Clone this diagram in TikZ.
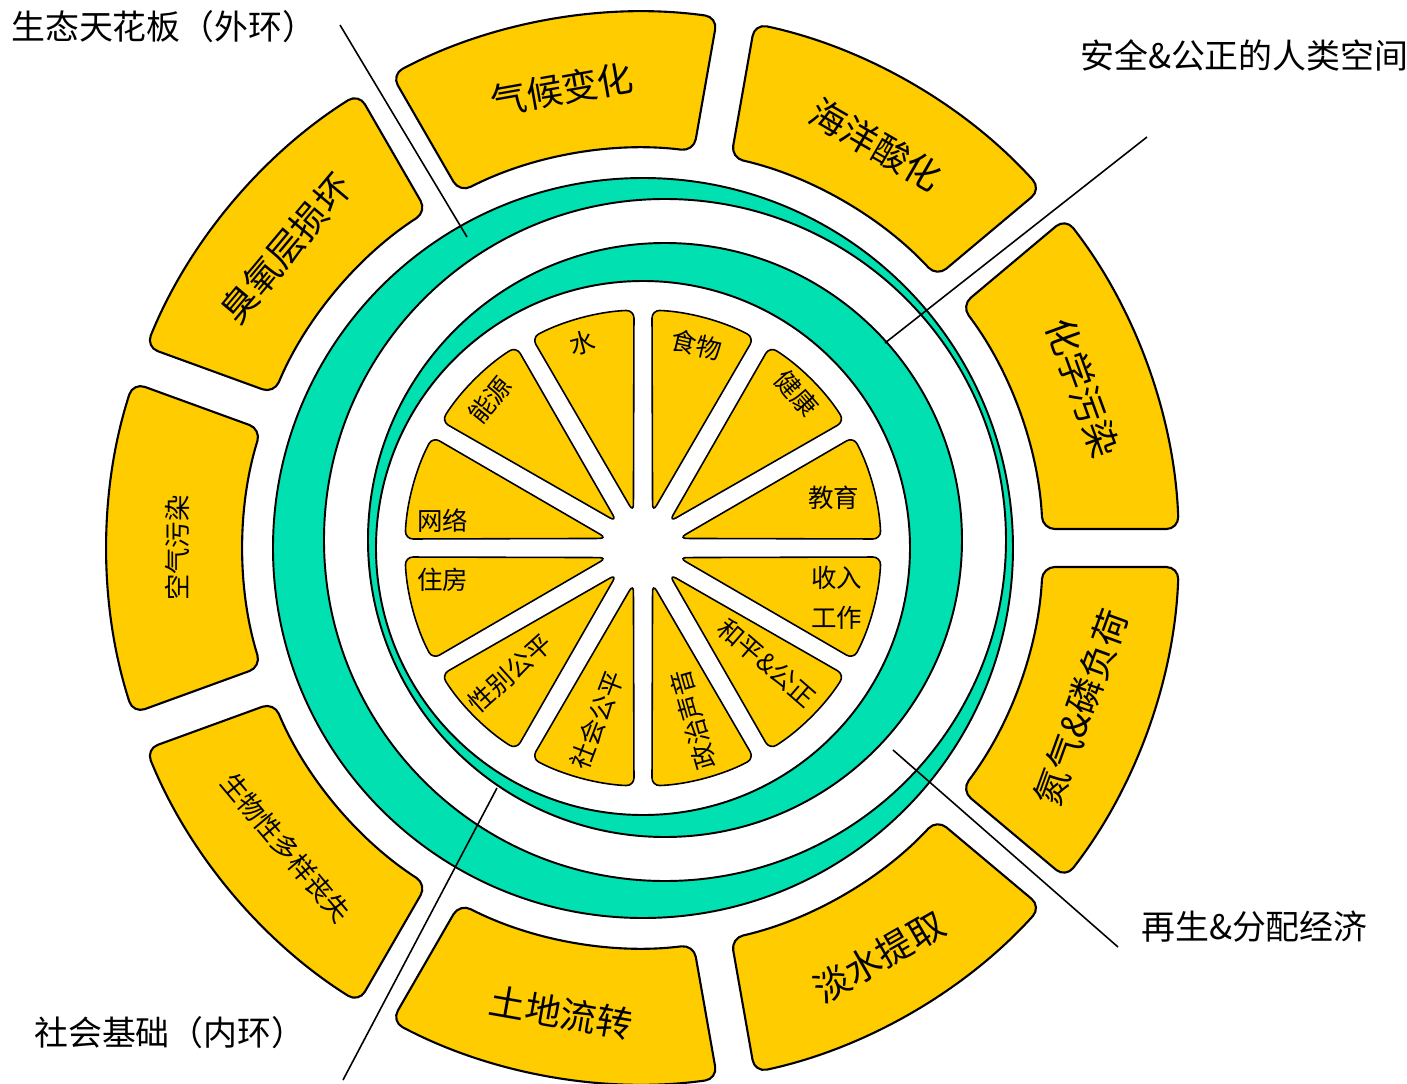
\documentclass[tikz,border=0pt]{standalone}
\usepackage{fontspec}
\setmainfont{Noto Sans CJK SC}
\definecolor{segyellow}{RGB}{255,204,0}
\definecolor{bandgreen}{RGB}{0,224,176}

% outer segment, #1 = middle angle (40 degrees wide)
\newcommand{\outerseg}[1]{%
  \pgfmathsetmacro\gi{asin(19/400)}%
  \pgfmathsetmacro\go{asin(19/536)}%
  \draw[seg] (#1-20+\go:536) arc[start angle=#1-20+\go, end angle=#1+20-\go, radius=536]
    -- (#1+20-\gi:400) arc[start angle=#1+20-\gi, end angle=#1-20+\gi, radius=400] -- cycle;}
% inner wedge, #1 = middle angle (30 degrees wide)
\newcommand{\innerwedge}[1]{%
  \pgfmathsetmacro\gw{asin(9/238)}%
  \draw[wedge] (#1:37) -- (#1-15+\gw:238) arc[start angle=#1-15+\gw, end angle=#1+15-\gw, radius=238] -- cycle;}

\begin{document}
\begin{tikzpicture}[x=0.02cm,y=0.02cm,
  seg/.style={draw,line width=1.2pt,fill=segyellow,rounded corners=7pt},
  wedge/.style={draw,line width=0.9pt,fill=segyellow,rounded corners=4.5pt},
  band/.style={draw,line width=1.1pt,fill=bandgreen,even odd rule},
  leader/.style={line width=0.9pt},
  biglabel/.style={font=\fontsize{20.5}{20.5}\selectfont},
  midlabel/.style={font=\fontsize{15}{15}\selectfont},
  smalllabel/.style={font=\fontsize{14.5}{14.5}\selectfont},
  cornerlabel/.style={font=\fontsize{19.3}{19.3}\selectfont,anchor=west}]
\useasboundingbox (-643,-535) rectangle (764,548);
% outer ring: planetary boundaries
\outerseg{100}
\outerseg{60}
\outerseg{20}
\outerseg{-20}
\outerseg{-60}
\outerseg{-100}
\outerseg{-140}
\outerseg{180}
\outerseg{140}
% green bands (two eccentric circles each)
\draw[band] (0,0) circle[radius=370] (22,8) circle[radius=341];
\draw[band] (22,8) circle[radius=297] (0,0) circle[radius=267];
% inner wedges: social foundation
\innerwedge{105}
\innerwedge{135}
\innerwedge{165}
\innerwedge{195}
\innerwedge{225}
\innerwedge{255}
\innerwedge{285}
\innerwedge{315}
\innerwedge{345}
\innerwedge{15}
\innerwedge{45}
\innerwedge{75}
% leader lines
\coordinate (ceilA) at (-303,523);
\coordinate (ceilB) at (-176,311);
\coordinate (safeA) at (504,411);
\coordinate (safeB) at (242,205);
\coordinate (econA) at (250,-202);
\coordinate (econB) at (475,-399);
\coordinate (baseA) at (-146,-240);
\coordinate (baseB) at (-300,-532);
\draw[leader] (ceilA) -- (ceilB);
\draw[leader] (safeA) -- (safeB);
\draw[leader] (econA) -- (econB);
\draw[leader] (baseA) -- (baseB);
% outer labels
\node[biglabel,rotate=10] (climate) at (100:466) {气候变化};
\node[biglabel,rotate=-30] (ocean) at (60:466) {海洋酸化};
\node[biglabel,rotate=-70] (chem) at (20:468) {化学污染};
\node[biglabel,rotate=70] (nitro) at (-20:466) {氮气\&磷负荷};
\node[biglabel,rotate=30] (fresh) at (-60:472) {淡水提取};
\node[biglabel,rotate=-10] (land) at (-100:472) {土地流转};
\node[midlabel,rotate=-50] (bio) at (-140:466) {生物性多样丧失};
\node[midlabel,rotate=90] (air) at (180:466) {空气污染};
\node[biglabel,rotate=50] (ozone) at (140:466) {臭氧层损坏};
% inner labels
\node[smalllabel,rotate=15] (water) at (-61,205) {水};
\node[smalllabel,rotate=-13] (food) at (54,203) {食物};
\node[smalllabel,rotate=51] (energy) at (-153,148) {能源};
\node[smalllabel,rotate=-49] (health) at (154,155) {健康};
\node[smalllabel] (network) at (-200,27) {网络};
\node[smalllabel] (housing) at (-200,-32) {住房};
\node[smalllabel] (edu) at (191,50) {教育};
\node[smalllabel] (income) at (194,-30) {收入};
\node[smalllabel] (work) at (194,-70) {工作};
\node[smalllabel,rotate=42] (gender) at (-133,-125) {性别公平};
\node[smalllabel,rotate=69] (equity) at (-46,-172) {社会公平};
\node[smalllabel,rotate=106] (voice) at (50,-172) {政治声音};
\node[smalllabel,rotate=-41] (peace) at (124,-115) {和平\&公正};
% corner labels
\node[cornerlabel] (ceiling) at (-638,521) {生态天花板（外环）};
\node[cornerlabel] (safe) at (431,493) {安全\&公正的人类空间};
\node[cornerlabel] (econ) at (492,-379) {再生\&分配经济};
\node[cornerlabel] (found) at (-615,-485) {社会基础（内环）};
\end{tikzpicture}
\end{document}
